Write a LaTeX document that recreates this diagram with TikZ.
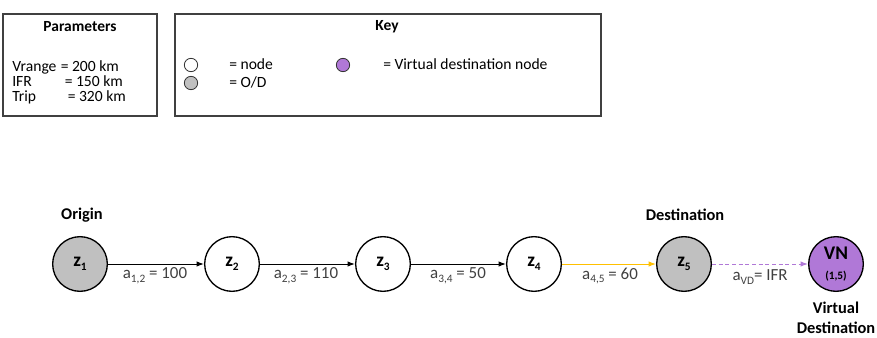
\documentclass[tikz,border=0pt]{standalone}
\usepackage{fontspec}
\setmainfont{Carlito}
\usetikzlibrary{arrows.meta}
\definecolor{odgray}{RGB}{192,192,192}
\definecolor{vnpurple}{RGB}{176,120,215}
\definecolor{linkyellow}{RGB}{255,192,0}
\definecolor{labelgray}{RGB}{64,64,64}
\tikzset{
  panel/.style={draw=black!75, line width=0.8pt},
  net/.style={circle, draw=black, line width=1pt, minimum size=41pt, inner sep=0pt, font=\bfseries\fontsize{14.5}{16}\selectfont},
  plain/.style={net, fill=white},
  od/.style={net, fill=odgray},
  vn/.style={net, fill=vnpurple},
  keydot/.style={circle, draw=black!80, line width=0.6pt, minimum size=10pt, inner sep=0pt},
  link/.style={line width=0.75pt, -{Latex[length=5.5pt,width=4pt]}},
  linklabel/.style={font=\fontsize{12.7}{15}\selectfont, text=labelgray},
  txt/.style={font=\fontsize{11.7}{14}\selectfont, inner sep=0pt},
  heading/.style={font=\bfseries\fontsize{11.6}{14}\selectfont, inner sep=0pt},
  biglabel/.style={font=\bfseries\fontsize{12.3}{15}\selectfont, inner sep=0pt, align=center}
}
\newcommand{\lowsub}[1]{\raisebox{-0.45ex}{\fontsize{8.5}{9}\selectfont #1}}
\begin{document}
\begin{tikzpicture}[x=0.75pt,y=-0.75pt]
\useasboundingbox (0,0) rectangle (877,338);

% Parameters panel
\draw[panel] (3,14) rectangle (157,116);
\node[heading] (ptitle) at (80,27) {Parameters};
\node[txt, anchor=base west] (pv) at (12,72) {Vrange};
\node[txt, anchor=base west] (pvv) at (60.5,72) {= 200 km};
\node[txt, anchor=base west] (pi) at (12,87) {IFR};
\node[txt, anchor=base west] (piv) at (64.5,87) {= 150 km};
\node[txt, anchor=base west] (pt) at (12,102) {Trip};
\node[txt, anchor=base west] (ptv) at (67.5,102) {= 320 km};

% Key panel
\draw[panel] (175,14) rectangle (601,116);
\node[heading] (ktitle) at (387,27) {Key};
\node[keydot, fill=white] (kn) at (191,65) {};
\node[txt, anchor=base west] (knt) at (229,69.5) {= node};
\node[keydot, fill=odgray] (ko) at (191,83) {};
\node[txt, anchor=base west] (kot) at (229,87.5) {= O/D};
\node[keydot, fill=vnpurple] (kv) at (343,65) {};
\node[txt, anchor=base west] (kvt) at (383,69.5) {= Virtual destination node};

% Network
\node[od] (z1) at (80,264) {z\lowsub{1}};
\node[plain] (z2) at (232,264) {z\lowsub{2}};
\node[plain] (z3) at (383,264) {z\lowsub{3}};
\node[plain] (z4) at (534,264) {z\lowsub{4}};
\node[od] (z5) at (684,264) {z\lowsub{5}};
\node[vn, align=center] (vn) at (836,264) {VN\\[-1pt]{\fontsize{8.5}{9}\selectfont (1,5)}};

\draw[link] (z1) -- (z2);
\draw[link] (z2) -- (z3);
\draw[link] (z3) -- (z4);
\draw[link, draw=linkyellow, -{Latex[length=5.5pt,width=4pt,fill=linkyellow]}] (z4) -- (z5);
\draw[link, draw=vnpurple, dashed, dash pattern=on 3pt off 2pt] (z5) -- (vn);

\node[linklabel] (l12) at (155,276) {a\lowsub{1,2} = 100};
\node[linklabel] (l23) at (306,276) {a\lowsub{2,3} = 110};
\node[linklabel] (l34) at (458,276) {a\lowsub{3,4} = 50};
\node[linklabel] (l45) at (610,276) {a\lowsub{4,5} = 60};
\node[linklabel] (lvd) at (760,277) {a\lowsub{VD}= IFR};

\node[biglabel] (origin) at (82,215) {Origin};
\node[biglabel] (dest) at (685,215) {Destination};
\node[biglabel] (vdest) at (836,318) {Virtual\\Destination};
\end{tikzpicture}
\end{document}
